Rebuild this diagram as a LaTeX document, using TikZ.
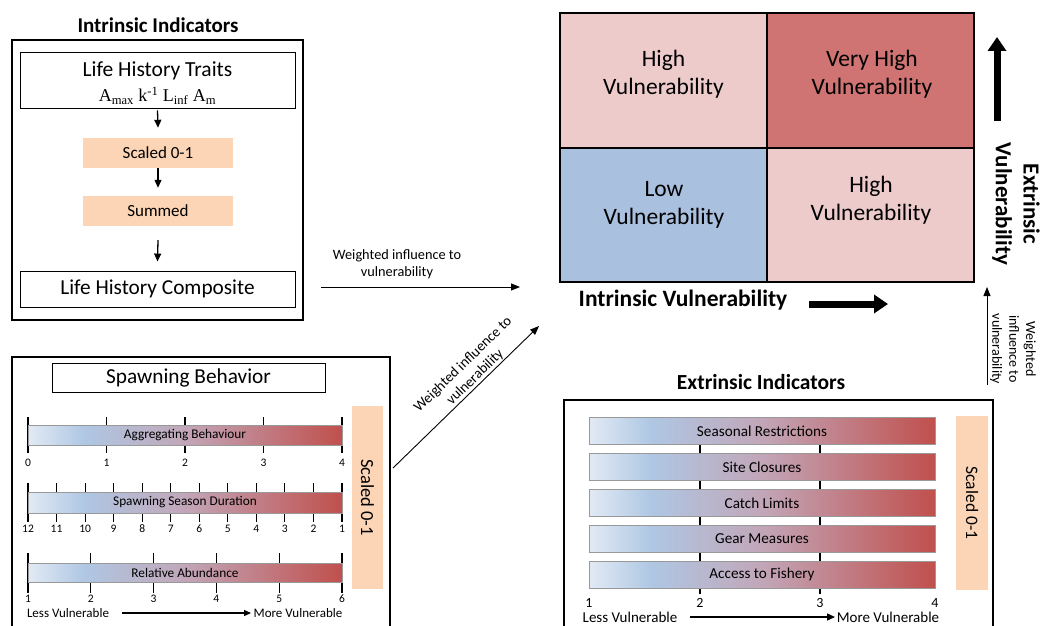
\documentclass[tikz,border=0pt]{standalone}
\usepackage{fontspec}
\setmainfont{Carlito}
\newfontfamily\serifF{Liberation Serif}
\usetikzlibrary{arrows.meta}
\definecolor{peach}{HTML}{FBD5B5}
\definecolor{pinkc}{HTML}{EDCBCB}
\definecolor{redc}{HTML}{D07473}
\definecolor{bluec}{HTML}{A9C0DF}
\definecolor{gA}{HTML}{E2EAF4}
\definecolor{gB}{HTML}{AFC7E3}
\definecolor{gC}{HTML}{C2A6B8}
\definecolor{gD}{HTML}{C0504D}
\pgfdeclarehorizontalshading{vulgrad}{100bp}{color(0bp)=(gA); color(25bp)=(gA); color(34bp)=(gB); color(50bp)=(gC); color(75bp)=(gD); color(100bp)=(gD)}
\newcommand{\fs}[1]{\fontsize{#1}{\fpeval{1.2*#1}}\selectfont}
\tikzset{
  frame/.style={line width=2.5pt},
  box/.style={draw, line width=0.9pt, fill=white, inner sep=0pt},
  peachbox/.style={fill=peach, inner sep=0pt},
  bar/.style={draw=gray!80, line width=0.6pt, shading=vulgrad, inner sep=0pt},
  cell/.style={draw, line width=2.5pt, inner sep=0pt},
  celltext/.style={align=center, font=\fs{23.5}, inner sep=0pt},
  arr/.style={line width=1.3pt, -{Triangle[length=8pt,width=7pt]}},
  thinarr/.style={line width=0.9pt, -{Triangle[length=9pt,width=7pt]}},
  bigarr/.style={line width=7pt, -{Triangle[length=14pt,width=18pt]}},
  tick/.style={line width=1.1pt},
}
\begin{document}
\begin{tikzpicture}[x=1pt,y=-1pt]
\useasboundingbox (0,0) rectangle (1041,626);
% ---------- Intrinsic indicators ----------
\node[font=\bfseries\fs{21}] (ttlI) at (158,25) {Intrinsic Indicators};
\node[draw, frame, minimum width=291pt, minimum height=280pt, inner sep=0pt] (intr) at (157.5,180) {};
\node[box, minimum width=275pt, minimum height=56pt] (lht) at (157.5,80) {};
\node[font=\fs{21.5}] (lhtT) at (157.5,71) {Life History Traits};
\node[font=\serifF\fs{18}] (lhtS) at (157.5,96) {A\textsubscript{max} k\textsuperscript{-1} L\textsubscript{inf} A\textsubscript{m}};
\node[peachbox, minimum width=150pt, minimum height=30pt, font=\fs{17}] (sc) at (158,153) {Scaled 0-1};
\node[peachbox, minimum width=150pt, minimum height=30pt, font=\fs{17}] (sum) at (158,211) {Summed};
\node[box, minimum width=275pt, minimum height=36pt, font=\fs{21.3}] (comp) at (157.5,289) {Life History Composite};
\draw[arr] ([yshift=-2pt]lht.south) -- ([yshift=10pt]sc.north);
\draw[arr] (sc.south) -- ([yshift=8pt]sum.north);
\draw[arr] ([yshift=-14pt]sum.south) -- ([yshift=9pt]comp.north);
% ---------- Matrix ----------
\node[cell, fill=pinkc, minimum width=207pt, minimum height=135pt] (tl) at (663.5,80.5) {};
\node[cell, fill=redc, minimum width=207pt, minimum height=135pt] (tr) at (870.5,80.5) {};
\node[cell, fill=bluec, minimum width=207pt, minimum height=134pt] (bl) at (663.5,215) {};
\node[cell, fill=pinkc, minimum width=207pt, minimum height=134pt] (br) at (870.5,215) {};
\node[celltext] (tlT) at (663.5,74) {High\\Vulnerability};
\node[celltext] (trT) at (872,74) {Very High\\Vulnerability};
\node[celltext] (blT) at (664,205) {Low\\Vulnerability};
\node[celltext] (brT) at (871,200) {High\\Vulnerability};
\node[font=\bfseries\fs{23.5}] (iv) at (683,300) {Intrinsic Vulnerability};
\coordinate (ivA) at (809,304);
\coordinate (ivB) at (888,304);
\draw[bigarr] (ivA) -- (ivB);
\coordinate (evA) at (997,121);
\coordinate (evB) at (997,37);
\draw[bigarr] (evA) -- (evB);
\node[font=\bfseries\fs{23}, rotate=-90, align=center] (ev) at (1016,204) {Extrinsic\\Vulnerability};
% ---------- influence arrows ----------
\coordinate (w1A) at (321,287);
\coordinate (w1B) at (520,287);
\draw[thinarr] (w1A) -- (w1B);
\node[font=\fs{14.3}, align=center] (w1L) at (397,264) {Weighted influence to\\vulnerability};
\coordinate (w2A) at (393,468);
\coordinate (w2B) at (539,326);
\draw[thinarr] (w2A) -- node[pos=0.6, above, sloped, align=center, font=\fs{14.5}, inner sep=1pt] (w2L) {Weighted influence to\\vulnerability} (w2B);
\coordinate (w3A) at (987,385);
\coordinate (w3B) at (987,287);
\draw[thinarr] (w3A) -- (w3B);
\node[font=\fs{14}, rotate=-90, align=center] (w3L) at (1013,349) {Weighted\\influence to\\vulnerability};
% ---------- Extrinsic indicators ----------
\node[font=\bfseries\fs{21.5}] (ttlE) at (761,382) {Extrinsic Indicators};
\draw[frame] (564,640) |- (993,400) -- (993,640);
\foreach \x in {700,820} \draw[tick] (\x,440) -- (\x,594);
\foreach \t [count=\i from 0] in {Seasonal Restrictions,Site Closures,Catch Limits,Gear Measures,Access to Fishery}
  \node[bar, minimum width=346pt, minimum height=27pt, font=\fs{15.2}] (eb\i) at (762,{431+\i*35.9}) {\t};
\foreach \x/\n in {589/1,700/2,820/3,935/4} \node[font=\fs{14}] (en\n) at (\x,603) {\n};
\node[font=\fs{15}] (elv) at (630,617) {Less Vulnerable};
\node[font=\fs{15}] (emv) at (888,617) {More Vulnerable};
\coordinate (eaA) at (690,617);
\coordinate (eaB) at (835,617);
\draw[line width=1.5pt, -{Triangle[length=8pt,width=7pt]}] (eaA) -- (eaB);
\node[peachbox, minimum width=32pt, minimum height=174pt] (esc) at (972,503) {};
\node[font=\fs{17.5}, rotate=-90] (escT) at (esc) {Scaled 0-1};
% ---------- Spawning behaviour ----------
\draw[frame] (12,640) |- (390,357) -- (390,640);
\node[box, minimum width=273pt, minimum height=29pt, font=\fs{21.3}] (spb) at (188.5,377.5) {Spawning Behavior};
\node[peachbox, minimum width=31pt, minimum height=183pt] (ssc) at (367.5,497.5) {};
\node[font=\fs{18.5}, rotate=-90] (sscT) at (ssc) {Scaled 0-1};
% Aggregating
\foreach \i in {0,...,4} {
  \draw[tick] ({28+\i*78.5},417) -- ({28+\i*78.5},453);
  \node[font=\fs{11.5}] at ({28+\i*78.5},463) {\i};
}
\node[bar, minimum width=314pt, minimum height=20pt, font=\fs{13.3}] (sb1) at (185,435) {Aggregating Behaviour};
% Season duration
\foreach \i in {0,...,11} {
  \pgfmathtruncatemacro{\lab}{12-\i}
  \draw[tick] ({28+\i*28.545},483) -- ({28+\i*28.545},522);
  \node[font=\fs{11.5}] at ({28+\i*28.545},529) {\lab};
}
\node[bar, minimum width=314pt, minimum height=21pt, font=\fs{13.3}] (sb2) at (185,502.5) {Spawning Season Duration};
% Relative abundance
\foreach \i in {0,...,5} {
  \pgfmathtruncatemacro{\lab}{\i+1}
  \draw[tick] ({28+\i*62.8},553) -- ({28+\i*62.8},593);
  \node[font=\fs{11.5}] at ({28+\i*62.8},599) {\lab};
}
\node[bar, minimum width=314pt, minimum height=19pt, font=\fs{13.3}] (sb3) at (185,572.5) {Relative Abundance};
\node[font=\fs{13}] (slv) at (68,613) {Less Vulnerable};
\node[font=\fs{13}] (smv) at (298,613) {More Vulnerable};
\coordinate (saA) at (122,613);
\coordinate (saB) at (251,613);
\draw[line width=1.3pt, -{Triangle[length=7pt,width=6pt]}] (saA) -- (saB);
\end{tikzpicture}
\end{document}
